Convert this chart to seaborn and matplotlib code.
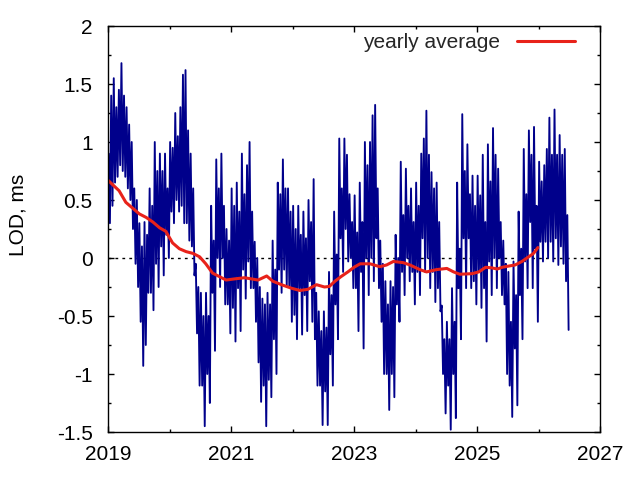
import numpy as np
import pandas as pd
import matplotlib
matplotlib.use("Agg")
import matplotlib.pyplot as plt
import seaborn as sns
from matplotlib.ticker import MultipleLocator

sns.set_theme(style="ticks")
plt.rcParams["font.family"] = ["Liberation Sans", "DejaVu Sans"]

# ---- daily LOD (ms), read ~4 samples per month (alternating fortnightly highs/lows) ----
lod_2019 = [0.9, 0.3, 1.4, 0.45, 1.55, 0.65, 1.3, 0.7, 1.45, 0.8, 1.68, 0.75,
            1.4, 0.7, 1.3, 0.6, 1.15, 0.5, 1.0, 0.25, 0.6, -0.05, 0.5, -0.25,
            0.3, -0.55, 0.1, -0.93, 0.31, -0.75, 0.2, -0.3, 0.6, -0.3, 0.45, -0.45,
            1.0, -0.05, 0.75, -0.25, 0.9, 0.1, 0.75, -0.15, 0.9, 0.2, 0.6, 0.0]
lod_2020 = [1.0, 0.4, 0.95, 0.3, 1.25, 0.5, 1.05, 0.4, 1.3, 0.45, 1.58, 0.3,
            1.62, 0.3, 1.1, 0.15, 0.9, 0.1, 0.6, -0.15, -0.05, -0.65, -0.25, -1.1,
            -0.3, -1.1, -0.5, -1.45, -0.3, -1.0, -0.5, -1.25, 0.45, -0.3, 0.15, -0.8,
            0.85, 0.0, 0.6, -0.25, 0.9, 0.0, 0.45, -0.4, 0.25, -0.4, 0.15, -0.65]
lod_2021 = [0.6, -0.43, 0.45, -0.72, 0.65, -0.26, 0.4, -0.63, 0.9, -0.1, 0.55, -0.35,
            0.8, -0.03, 1.0, -0.26, 0.4, -0.26, 0.14, -0.55, 0.0, -0.9, -0.25, -1.24,
            -0.35, -1.1, -0.4, -1.45, -0.3, -1.05, -0.4, -1.2, 0.15, -0.7, -0.1, -1.0,
            0.65, -0.1, 0.55, -0.3, 0.85, -0.1, 0.6, -0.25, 0.6, -0.25, 0.4, -0.55]
lod_2022 = [0.45, -0.49, 0.25, -0.7, 0.45, -0.26, 0.2, -0.66, 0.4, -0.32, 0.17, -0.63,
            0.5, -0.2, 0.31, -0.55, 0.68, -0.7, -0.3, -1.1, -0.46, -1.1, -0.63, -1.44,
            -0.46, -1.15, -0.6, -1.44, -0.12, -0.83, -0.32, -1.1, 0.4, -0.4, 0.03, -0.7,
            1.03, 0.17, 0.6, -0.12, 1.03, 0.25, 0.89, -0.03, 0.55, 0.0, 0.31, -0.26]
lod_2023 = [0.54, -0.26, 0.22, -0.63, 0.65, -0.12, 0.31, -0.78, 1.0, 0.0, 0.8, -0.32,
            1.0, 0.0, 1.23, -0.2, 1.32, 0.17, 0.6, -0.26, 0.15, -0.55, -0.05, -1.0,
            -0.2, -1.0, -0.4, -1.31, -0.2, -1.0, -0.25, -1.2, 0.2, -0.4, 0.0, -0.55,
            0.83, -0.12, 0.37, -0.32, 0.77, 0.0, 0.45, -0.2, 0.6, -0.12, 0.31, -0.4]
lod_2024 = [0.65, -0.12, 0.45, -0.32, 0.9, 0.17, 1.03, -0.12, 1.27, 0.0, 0.89, -0.26,
            0.74, -0.12, 0.6, -0.38, 0.65, -0.26, 0.31, -0.46, -0.41, -1.0, -0.7, -1.34,
            -0.55, -1.1, -0.7, -1.48, -0.26, -1.0, -0.55, -1.38, 0.65, -0.26, 0.08, -0.7,
            1.24, 0.17, 0.75, -0.26, 0.98, 0.17, 0.55, -0.26, 0.71, -0.2, 0.45, -0.4]
lod_2025 = [0.71, -0.12, 0.54, -0.43, 0.89, -0.26, 0.31, -0.72, 0.98, -0.03, 0.66, -0.32,
            1.12, 0.0, 0.89, -0.26, 0.77, 0.0, 0.31, -0.32, 0.15, -0.4, -0.05, -1.0,
            -0.12, -1.1, -0.55, -1.37, -0.03, -0.78, -0.32, -1.27, 0.4, -0.32, 0.08, -0.7,
            0.94, -0.03, 0.55, -0.26, 1.1, 0.31, 0.89, -0.26, 1.13, 0.08, 0.45, -0.55]
lod_2026 = [0.83, 0.14, 0.66, -0.03, 0.8, 0.14, 0.94, 0.0, 1.21, 0.14, 0.89, -0.03,
            1.28, 0.17, 0.89, -0.06, 1.06, 0.1, 0.89, -0.05, 0.94, -0.2, 0.37, -0.62]

lod = lod_2019 + lod_2020 + lod_2021 + lod_2022 + lod_2023 + lod_2024 + lod_2025 + lod_2026
start_year = 2019
samples_per_year = 48
lod_years = start_year + (np.arange(len(lod)) + 0.5) / samples_per_year

# ---- yearly average ----
avg_years = [2019.0, 2019.18, 2019.29, 2019.40, 2019.51, 2019.62, 2019.73, 2019.84, 2019.94,
             2020.05, 2020.16, 2020.27, 2020.38, 2020.49, 2020.59, 2020.70, 2020.81, 2020.92,
             2021.06, 2021.22, 2021.33, 2021.44, 2021.58, 2021.68, 2021.82, 2021.98,
             2022.12, 2022.25, 2022.39, 2022.52, 2022.60, 2022.69, 2022.79, 2022.90,
             2023.00, 2023.10, 2023.26, 2023.42, 2023.53, 2023.64, 2023.80, 2023.91,
             2024.07, 2024.18, 2024.34, 2024.51, 2024.62, 2024.72, 2024.92,
             2025.03, 2025.14, 2025.24, 2025.33, 2025.41, 2025.51, 2025.62, 2025.73,
             2025.84, 2025.92, 2025.99]
avg_values = [0.67, 0.58, 0.48, 0.43, 0.38, 0.35, 0.31, 0.26, 0.23,
              0.13, 0.08, 0.055, 0.04, 0.01, -0.05, -0.13, -0.16, -0.19,
              -0.18, -0.17, -0.18, -0.19, -0.155, -0.2, -0.23, -0.26,
              -0.28, -0.27, -0.23, -0.25, -0.245, -0.2, -0.16, -0.12,
              -0.08, -0.05, -0.05, -0.075, -0.06, -0.03, -0.04, -0.06,
              -0.1, -0.12, -0.1, -0.09, -0.12, -0.14, -0.135,
              -0.12, -0.08, -0.085, -0.095, -0.08, -0.07, -0.06, -0.03,
              0.01, 0.04, 0.09]

xtick_values = [2019, 2021, 2023, 2025, 2027]
xtick_labels = ["2019", "2021", "2023", "2025", "2027"]
ytick_values = [-1.5, -1, -0.5, 0, 0.5, 1, 1.5, 2]
ytick_labels = ["-1.5", "-1", "-0.5", "0", "0.5", "1", "1.5", "2"]

daily = pd.DataFrame({"year": lod_years, "lod": lod})
yearly = pd.DataFrame({"year": avg_years, "lod": avg_values})

fig = plt.figure(figsize=(6.4, 4.8), dpi=100)
ax = fig.add_axes([108 / 640, 1 - 432 / 480, 492 / 640, 406 / 480])

sns.lineplot(data=daily, x="year", y="lod", ax=ax, color="#00008b", lw=1.35,
             estimator=None, sort=False, label="_nolegend_")
ax.axhline(0, color="black", lw=1.0, ls=(0, (2, 3)), zorder=1.5)
sns.lineplot(data=yearly, x="year", y="lod", ax=ax, color="#e8221a", lw=2.2,
             estimator=None, sort=False, label="yearly average")

ax.set_xlim(2019, 2027)
ax.set_ylim(-1.5, 2)
ax.set_xticks(xtick_values)
ax.set_xticklabels(xtick_labels)
ax.set_yticks(ytick_values)
ax.set_yticklabels(ytick_labels)
ax.xaxis.set_minor_locator(MultipleLocator(1))
ax.yaxis.set_minor_locator(MultipleLocator(0.25))
ax.tick_params(which="both", direction="in", top=True, right=True, colors="black",
               labelsize=15, width=1.0)
ax.tick_params(which="major", length=4.5)
ax.tick_params(which="minor", length=2.5)
ax.tick_params(axis="y", which="major", pad=11)
ax.tick_params(axis="x", which="major", pad=9)
for s in ax.spines.values():
    s.set_color("black")
    s.set_linewidth(1.0)

ax.set_xlabel("")
ax.set_ylabel("LOD, ms", fontsize=15, color="black")
ax.yaxis.label.set_verticalalignment("center")
ax.yaxis.set_label_coords((18 - 108) / 492, (432 - 215) / 406)

ax.legend(loc="upper right", frameon=False, markerfirst=False, fontsize=15,
          handlelength=2.8, handletextpad=0.8, borderpad=0, borderaxespad=0,
          bbox_to_anchor=((575 - 108) / 492, (432 - 33) / 406))

fig.savefig("out.png", dpi=100)
